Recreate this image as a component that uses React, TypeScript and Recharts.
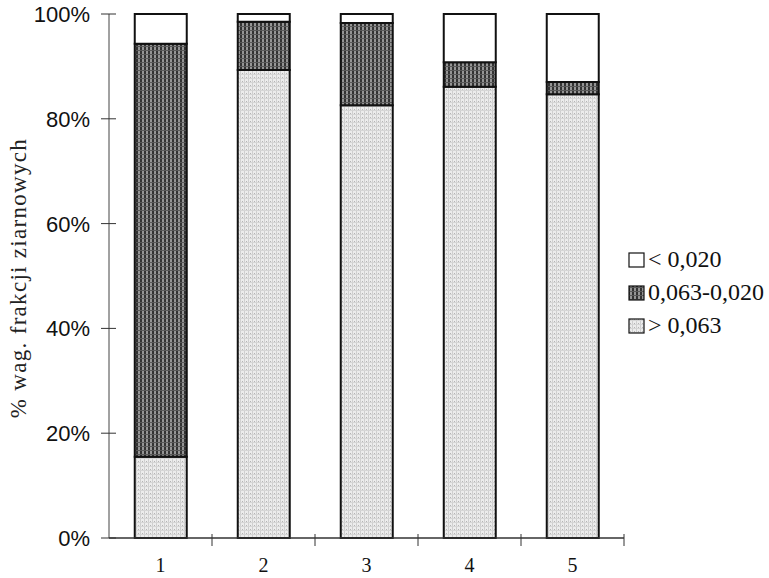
import React from 'react';
import { BarChart, Bar, XAxis, YAxis } from 'recharts';

const categories = ['1', '2', '3', '4', '5'];
const coarse = [15.5, 89.3, 82.6, 86.1, 84.7]; // > 0,063
const medium = [78.8, 9.2, 15.7, 4.7, 2.3]; // 0,063-0,020
const fine = [5.7, 1.5, 1.7, 9.2, 13.0]; // < 0,020
const yTicks = [0, 20, 40, 60, 80, 100];

const data = categories.map((name, i) => ({
  name,
  coarse: coarse[i],
  medium: medium[i],
  fine: fine[i],
}));

const W = 769;
const H = 578;
const margin = { top: 14, right: 145, bottom: 0, left: 0 };
const yAxisWidth = 109;
const xAxisHeight = 40;
const bandWidth = (W - margin.right - margin.left - yAxisWidth) / categories.length;

const SERIF = '"Liberation Serif", "Times New Roman", serif';
const SANS = '"Liberation Sans", Arial, sans-serif';

const Patterns: React.FC = () => (
  <defs>
    <pattern id="patDark" width="4" height="4" patternUnits="userSpaceOnUse">
      <rect width="4" height="4" fill="#959595" />
      <rect x="0" y="0" width="2" height="4" fill="#333" />
      <rect x="0" y="2" width="4" height="1" fill="#5a5a5a" />
    </pattern>
    <pattern id="patLight" width="4" height="4" patternUnits="userSpaceOnUse">
      <rect width="4" height="4" fill="#ececec" />
      <rect x="0" y="0" width="1" height="4" fill="#cfcfcf" />
      <rect x="0" y="2" width="4" height="1" fill="#d6d6d6" />
      <rect x="2" y="1" width="1" height="1" fill="#b5b5b5" />
    </pattern>
  </defs>
);

const YTick = (props: any) => {
  const { x, y, payload } = props;
  return (
    <g>
      <line x1={x - 8} x2={x + 7} y1={y} y2={y} stroke="#333" strokeWidth={1} />
      <text x={x - 19} y={y} dy={8} textAnchor="end" fontFamily={SANS} fontSize={22} fill="#111">
        {payload.value}%
      </text>
    </g>
  );
};

const XTick = (props: any) => {
  const { x, y, payload } = props;
  const bx = x + bandWidth / 2;
  return (
    <g>
      <line x1={bx} x2={bx} y1={y - 6} y2={y + 6} stroke="#333" strokeWidth={1} />
      <text x={x} y={y + 32} textAnchor="middle" fontFamily={SERIF} fontSize={20} fill="#111">
        {payload.value}
      </text>
    </g>
  );
};

const YLabel = (props: any) => {
  const { viewBox } = props;
  const cx = viewBox.x + 18;
  const cy = viewBox.y + viewBox.height / 2 + 2;
  return (
    <text
      x={cx}
      y={cy}
      transform={`rotate(-90, ${cx}, ${cy})`}
      textAnchor="middle"
      dominantBaseline="central"
      fontFamily={SERIF}
      fontSize={23}
      letterSpacing={1.3}
      fill="#222"
    >
      % wag. frakcji ziarnowych
    </text>
  );
};

const legendItems = [
  { label: '< 0,020', fill: '#ffffff' },
  { label: '0,063-0,020', fill: 'url(#patDark)' },
  { label: '> 0,063', fill: 'url(#patLight)' },
];

const App: React.FC = () => {
  return (
    <div style={{ position: 'absolute', left: 0, top: 0, width: W, height: H, background: '#fff' }}>
      <BarChart width={W} height={H} data={data} margin={margin} barCategoryGap="25%">
        <Patterns />
        <XAxis
          dataKey="name"
          height={xAxisHeight}
          tickSize={0}
          tickLine={false}
          axisLine={{ stroke: '#333', strokeWidth: 1.5 }}
          tick={<XTick />}
          interval={0}
        />
        <YAxis
          width={yAxisWidth}
          domain={[0, 100]}
          ticks={yTicks}
          tickSize={0}
          tickMargin={0}
          tickLine={false}
          axisLine={{ stroke: '#444', strokeWidth: 1 }}
          tick={<YTick />}
          interval={0}
          label={<YLabel />}
        />
        <Bar dataKey="coarse" stackId="a" fill="url(#patLight)" stroke="#111" strokeWidth={2} isAnimationActive={false} />
        <Bar dataKey="medium" stackId="a" fill="url(#patDark)" stroke="#111" strokeWidth={2} isAnimationActive={false} />
        <Bar dataKey="fine" stackId="a" fill="#ffffff" stroke="#111" strokeWidth={2} isAnimationActive={false} />
      </BarChart>
      <div style={{ position: 'absolute', left: 628, top: 243, fontFamily: SERIF, fontSize: 24, color: '#111' }}>
        {legendItems.map((it) => (
          <div key={it.label} style={{ display: 'flex', alignItems: 'center', height: 33, whiteSpace: 'nowrap' }}>
            <svg width={17} height={16} style={{ marginRight: 3 }}>
              <rect x={1} y={1} width={15} height={14} fill={it.fill} stroke="#111" strokeWidth={1.2} />
            </svg>
            <span>{it.label}</span>
          </div>
        ))}
      </div>
    </div>
  );
};

export default App;
